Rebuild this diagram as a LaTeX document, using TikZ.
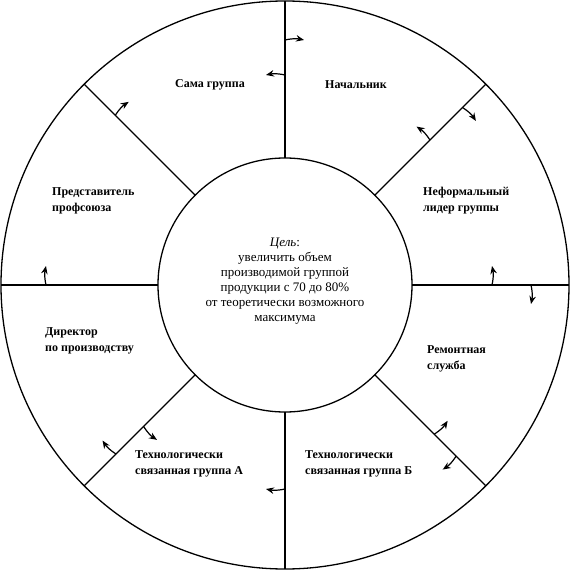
\documentclass[tikz,border=0pt]{standalone}
\usepackage{fontspec}
\setmainfont{Liberation Serif}
\usetikzlibrary{arrows.meta,calc}
\tikzset{
  ring/.style={circle,draw,line width=1.3pt,inner sep=0pt,outer sep=0pt},
  spoke/.style={line width=1.3pt},
  arr/.style={line width=1.2pt,-{Stealth[length=8pt,width=6.5pt]}},
  lbl/.style={font=\bfseries\fontsize{12}{16}\selectfont,align=left,inner sep=0pt},
  ctr/.style={font=\fontsize{13}{15}\selectfont,align=center,inner sep=0pt}
}
\newcommand{\flowarrow}[5]{% name, angle, distance, perp-angle offset, bend
  \coordinate (#1s) at (#2:#3);
  \coordinate (#1e) at ($(#1s)+(#2#4:19)$);
  \draw[arr] (#1s) to[bend left=#5] (#1e);
}
\begin{document}
\begin{tikzpicture}[x=1pt,y=1pt]
\useasboundingbox (-285,-285) rectangle (285,285);
\node[ring,minimum size=568pt] (outer) at (0,0) {};
\node[ring,minimum size=254pt] (inner) at (0,0) {};
\foreach \a in {0,45,...,315}{
  \draw[spoke] (inner.\a) -- (outer.\a);
}
% arrows
\flowarrow{a1}{90}{245}{-90}{12}
\flowarrow{a2}{90}{210}{+90}{-12}
\flowarrow{a3}{135}{240}{-90}{12}
\flowarrow{a4}{45}{205}{+90}{-12}
\flowarrow{a5}{45}{251}{-90}{12}
\flowarrow{a6}{180}{239}{-90}{12}
\flowarrow{a7}{0}{207}{+90}{-12}
\flowarrow{a8}{0}{246}{-90}{12}
\flowarrow{a9}{225}{239}{-90}{12}
\flowarrow{a10}{225}{200}{+90}{-12}
\flowarrow{a11}{270}{204}{-90}{12}
\flowarrow{a12}{315}{211}{+90}{-12}
\flowarrow{a13}{315}{242}{-90}{12}
% labels
\node[lbl] (g) at (-75,200) {Сама группа};
\node[lbl] (boss) at (71,200) {Начальник};
\node[lbl,anchor=west] (lead) at (138,84) {Неформальный\\лидер группы};
\node[lbl,anchor=west] (union) at (-233,84) {Представитель\\профсоюза};
\node[lbl,anchor=west] (dir) at (-240,-56) {Директор\\по производству};
\node[lbl,anchor=west] (rep) at (142,-74) {Ремонтная\\служба};
\node[lbl,anchor=west] (ta) at (-150,-179) {Технологически\\связанная группа А};
\node[lbl,anchor=west] (tb) at (20,-179) {Технологически\\связанная группа Б};
\node[ctr] (goal) at (0,4) {\textit{Цель}:\\увеличить объем\\производимой группой\\продукции с 70 до 80\%\\от теоретически возможного\\максимума};
\end{tikzpicture}
\end{document}
